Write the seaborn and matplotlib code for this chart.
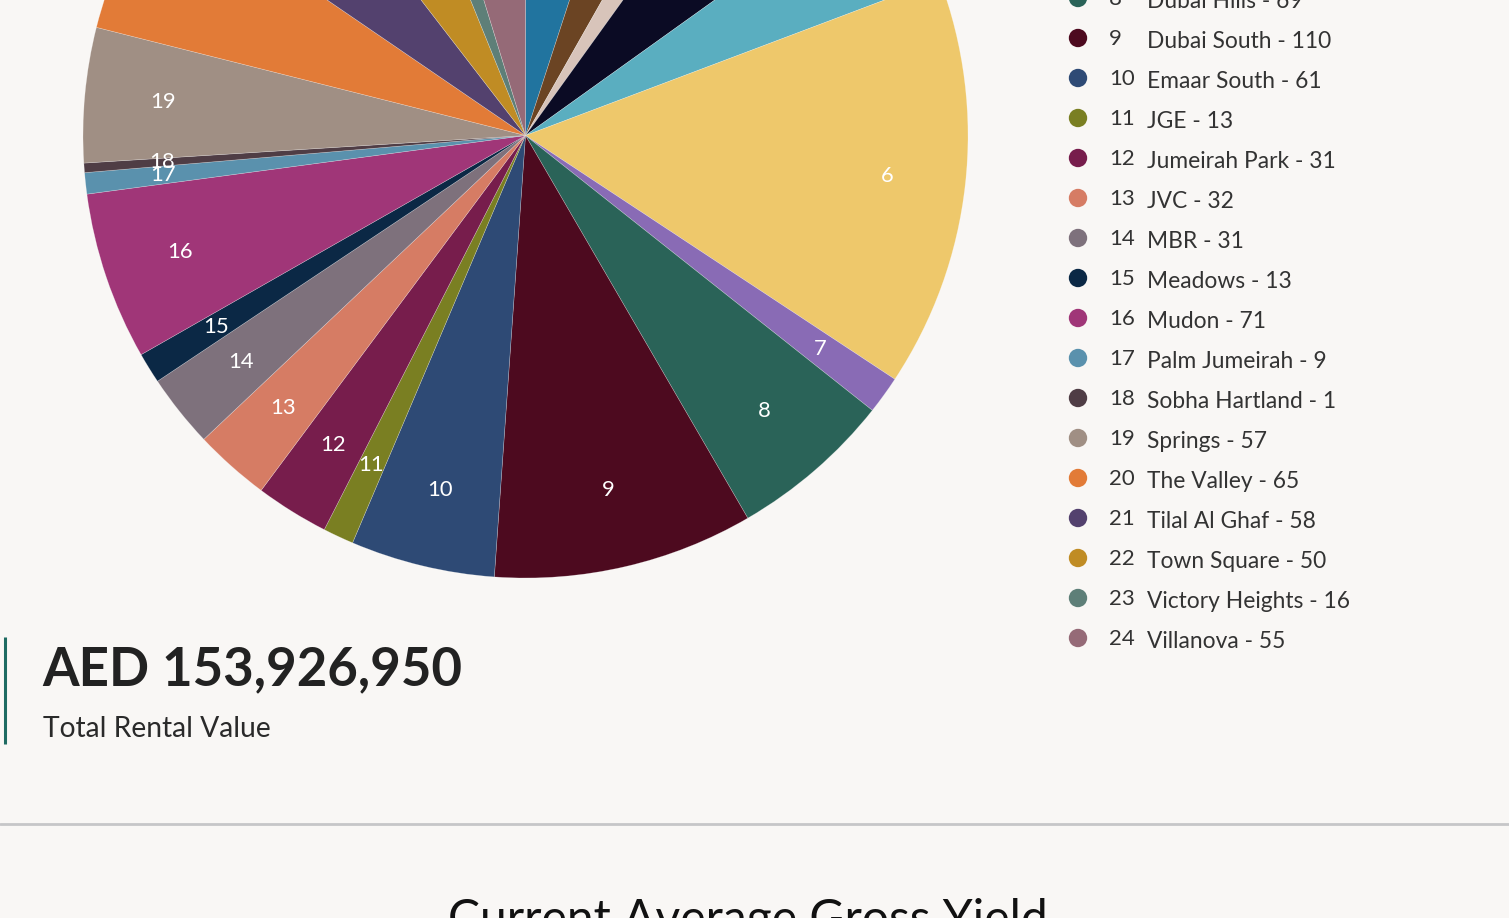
import matplotlib
matplotlib.use("Agg")
import matplotlib.pyplot as plt
import seaborn as sns
import pandas as pd

# ---------------- data ----------------
slice_ids = list(range(1, 25))
slice_counts = [58, 37, 20, 60, 48, 174, 16, 69, 110, 61, 13, 31,
                32, 31, 13, 71, 9, 1, 57, 65, 58, 50, 16, 55]
slice_colors = ["#21749f", "#6b4423", "#d8c4ba", "#0b0b24", "#5aaec0", "#eec86b",
                "#896bb5", "#2a6358", "#4d0a1f", "#2e4a75", "#7a7f22", "#771d4c",
                "#d67c64", "#7e717c", "#0b2845", "#a03678", "#5a91ad", "#4f3d45",
                "#a08f84", "#e27b37", "#53416e", "#c08c24", "#5e7f78", "#956a77"]
legend_ids = list(range(8, 25))
legend_names = ["Dubai Hills", "Dubai South", "Emaar South", "JGE", "Jumeirah Park",
                "JVC", "MBR", "Meadows", "Mudon", "Palm Jumeirah", "Sobha Hartland",
                "Springs", "The Valley", "Tilal Al Ghaf", "Town Square",
                "Victory Heights", "Villanova"]
total_value_text = "AED 153,926,950"
total_caption = "Total Rental Value"
next_title = "Current Average Gross Yield"

MIN_SLICE = 4  # minimum drawn slice size (tiny slices are enlarged, as in the reference)

BG = "#f9f7f5"
TXT = "#333333"
W, H = 1509, 918

sns.set_theme(style="white")
plt.rcParams["font.family"] = ["Lato", "DejaVu Sans"]

fig = plt.figure(figsize=(W / 100, H / 100), dpi=100, facecolor=BG)

# overlay axes in pixel coordinates
ov = fig.add_axes([0, 0, 1, 1])
ov.set_facecolor(BG)

# ---------------- pie ----------------
cx, cy, r = 525.5, 135.5, 442.5
pie_ax = fig.add_axes([(cx - r) / W, 1 - (cy + r) / H, 2 * r / W, 2 * r / H])
drawn_sizes = [max(v, MIN_SLICE) for v in slice_counts]
wedges, texts = pie_ax.pie(drawn_sizes, colors=slice_colors, labels=[str(i) for i in slice_ids],
                           startangle=90, counterclock=False, radius=1,
                           labeldistance=0.823,
                           wedgeprops=dict(linewidth=0.4, edgecolor=(1, 1, 1, 0.35)),
                           textprops=dict(color="white", fontsize=15.8))
pie_ax.set_xlim(-1, 1)
pie_ax.set_ylim(-1, 1)
pie_ax.set_aspect("equal")
pie_ax.axis("off")
for t in texts:
    t.set_ha("center")
    t.set_va("center")
for w in wedges:
    w.set_clip_on(False)

# ---------------- legend ----------------
leg_df = pd.DataFrame({
    "id": legend_ids,
    "name": legend_names,
    "value": slice_counts[7:],
    "color": slice_colors[7:],
})
leg_df["y"] = 38 + (leg_df["id"] - 9) * 40
leg_df["x"] = 1078
sns.scatterplot(data=leg_df, x="x", y="y", hue="id", palette=list(leg_df["color"]),
                s=175, linewidth=0, legend=False, ax=ov, zorder=5)
ov.set_xlim(0, W)
ov.set_ylim(H, 0)
ov.axis("off")
for _, row in leg_df.iterrows():
    ov.text(1109, row["y"] + 1, str(row["id"]), fontsize=16, color=TXT,
            ha="left", va="center")
    ov.text(1147, row["y"] + 3.5, f"{row['name']} - {row['value']}", fontsize=16.4,
            color=TXT, ha="left", va="center")

# ---------------- summary block ----------------
ov.plot([5, 5], [637, 744], color="#1f6b62", linewidth=2.2, solid_capstyle="butt")
ov.text(42, 670, total_value_text, fontsize=38, fontweight="bold", color="#222222",
        ha="left", va="center")
ov.text(43, 729, total_caption, fontsize=20.3, color="#2a2a2a", ha="left", va="center")

# divider
ov.plot([0, W], [823.7, 823.7], color="#c6c6c8", linewidth=2.0)

# next section title (cut off)
ov.text(748, 920, next_title, fontsize=34.6, color="#111111", ha="center", va="center")

fig.savefig("out.png", dpi=100, facecolor=BG)
